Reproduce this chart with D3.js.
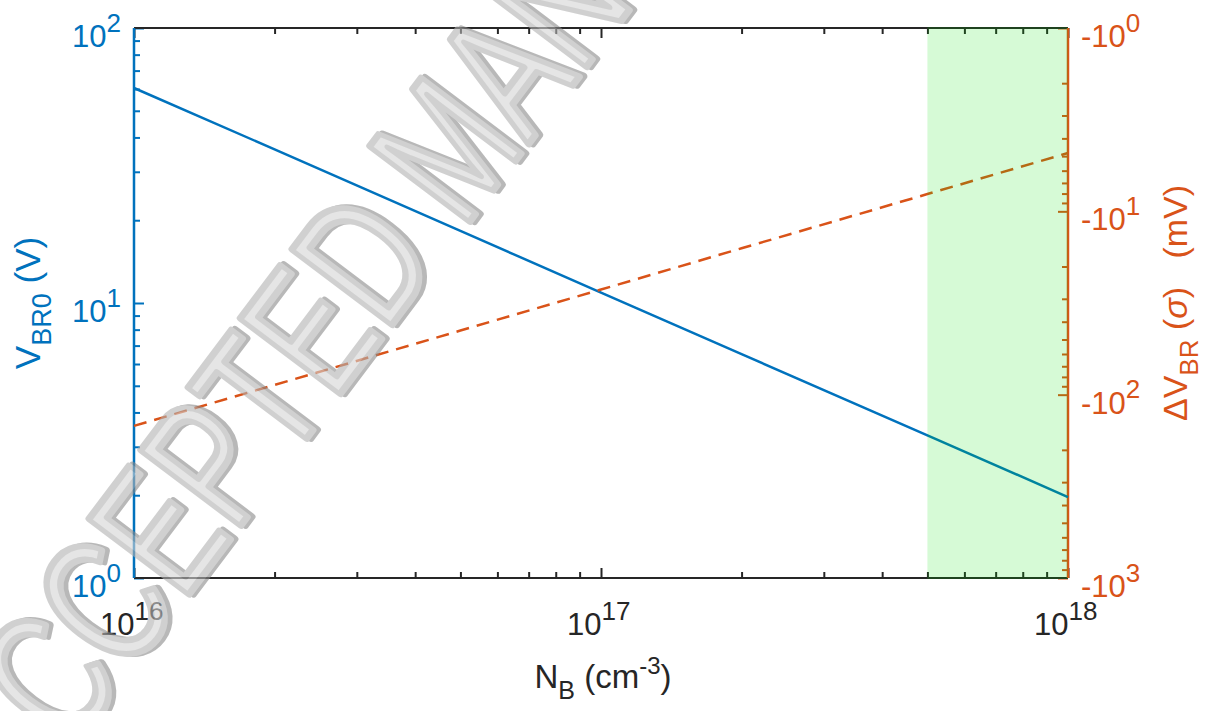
<!DOCTYPE html>
<html>
<head>
<meta charset="utf-8">
<script src="https://cdn.jsdelivr.net/npm/d3@7"></script>
<style>
  body { margin: 0; background: #fff; }
  text { font-family: "Liberation Sans", Arial, Helvetica, sans-serif; }
</style>
</head>
<body>
<svg id="chart" width="1211" height="711"></svg>
<script>
// doping concentration N_B (cm^-3) and the two curves
var nB = [1e16, 2e16, 5e16, 1e17, 2e17, 5e17, 1e18];
var vbr0 = [60.5, 36.2, 18.3, 10.9, 6.52, 3.30, 1.97];          // left axis, V
var dVbr = [-148, -88.5, -44.7, -26.7, -15.9, -8.05, -4.81];     // right axis, mV
var xTickExp = [16, 17, 18];
var leftTickExp = [0, 1, 2];
var rightTickExp = [0, 1, 2, 3];
var shadeRange = [5e17, 1e18];
var watermark = "ACCEPTED MANUSCRIPT";

var blue = "#0072BD", orange = "#D95319";
var margin = {left: 134, right: 143, top: 28, bottom: 133};
var W = 1211, H = 711;

var svg = d3.select("#chart");

var x = d3.scaleLog().domain([1e16, 1e18]).range([margin.left, W - margin.right]);
var yL = d3.scaleLog().domain([1, 100]).range([H - margin.bottom, margin.top]);
var yR = d3.scaleLog().domain([-1, -1000]).range([margin.top, H - margin.bottom]);

var x0 = margin.left, x1 = W - margin.right, y0 = margin.top, y1 = H - margin.bottom;

// minor/major tick positions
var isDecade = d => Math.abs(Math.log10(Math.abs(d)) - Math.round(Math.log10(Math.abs(d)))) < 1e-6;
var xMinor = x.ticks().filter(d => !isDecade(d));
var xMajor = xTickExp.map(e => Math.pow(10, e));
var lMinor = yL.ticks().filter(d => !isDecade(d));
var lMajor = leftTickExp.map(e => Math.pow(10, e));
var rMinor = d3.scaleLog().domain([1, 1000]).ticks().filter(d => !isDecade(d)).map(d => -d);
var rMajor = rightTickExp.map(e => -Math.pow(10, e));

function axisLines(g, scale, majors, minors, orient, color) {
    var mk = function(vals, len) {
        var ax = orient(scale).tickValues(vals).tickSize(-len).tickFormat("").tickSizeOuter(0);
        var a = g.append("g").call(ax);
        a.select(".domain").remove();
        a.selectAll("line").attr("stroke", color).attr("stroke-width", 2);
        return a;
    };
    mk(majors, 10);
    mk(minors, 6);
}

// bottom + top (black)
var gb = svg.append("g").attr("transform", `translate(0,${y1})`);
axisLines(gb, x, xMajor, xMinor, d3.axisBottom, "#262626");
var gt = svg.append("g").attr("transform", `translate(0,${y0})`);
axisLines(gt, x, xMajor, xMinor, d3.axisTop, "#262626");
// left (blue)
var gl = svg.append("g").attr("transform", `translate(${x0},0)`);
axisLines(gl, yL, lMajor, lMinor, d3.axisLeft, blue);
// right (orange)
var gr = svg.append("g").attr("transform", `translate(${x1},0)`);
axisLines(gr, yR, rMajor, rMinor, d3.axisRight, orange);

// box
svg.append("line").attr("x1", x0).attr("x2", x1).attr("y1", y0).attr("y2", y0).attr("stroke", "#262626").attr("stroke-width", 2);
svg.append("line").attr("x1", x0).attr("x2", x1).attr("y1", y1).attr("y2", y1).attr("stroke", "#262626").attr("stroke-width", 2);
svg.append("line").attr("x1", x0).attr("x2", x0).attr("y1", y0).attr("y2", y1).attr("stroke", blue).attr("stroke-width", 2.5);
svg.append("line").attr("x1", x1).attr("x2", x1).attr("y1", y0).attr("y2", y1).attr("stroke", orange).attr("stroke-width", 2.5);

// curves
var pts = nB.map((n, i) => ({n: n, v: vbr0[i], d: dVbr[i]}));
svg.append("path").datum(pts)
    .attr("fill", "none").attr("stroke", blue).attr("stroke-width", 2.5)
    .attr("d", d3.line().x(d => x(d.n)).y(d => yL(d.v)));
svg.append("path").datum(pts)
    .attr("fill", "none").attr("stroke", orange).attr("stroke-width", 2.5)
    .attr("stroke-dasharray", "13,8")
    .attr("d", d3.line().x(d => x(d.n)).y(d => yR(d.d)));

// shaded region on top
svg.append("rect")
    .attr("x", x(shadeRange[0])).attr("y", y0 - 1)
    .attr("width", x(shadeRange[1]) - x(shadeRange[0]))
    .attr("height", y1 - y0 + 2)
    .attr("fill", "#00dd00").attr("opacity", 0.16);

// tick labels with superscripts
function powLabel(sel, base, exp, fs, color, anchor) {
    var t = sel.append("text").attr("font-size", fs).attr("fill", color).attr("text-anchor", anchor);
    t.append("tspan").text(base);
    t.append("tspan").attr("font-size", fs * 0.84).attr("dy", -fs * 0.5).text(exp);
    return t;
}
xTickExp.forEach(function(e) {
    powLabel(svg, "10", e, 31, "#262626", "start")
        .attr("x", x(Math.pow(10, e)) - 34).attr("y", y1 + 57);
});
leftTickExp.forEach(function(e) {
    powLabel(svg, "10", e, 31, blue, "end")
        .attr("x", x0 - 13).attr("y", yL(Math.pow(10, e)) + 19);
});
rightTickExp.forEach(function(e) {
    powLabel(svg, "-10", e, 31, orange, "start")
        .attr("x", x1 + 13).attr("y", yR(-Math.pow(10, e)) + 19);
});

// axis titles
var xl = svg.append("text").attr("font-size", 33).attr("fill", "#262626").attr("text-anchor", "middle")
    .attr("x", (x0 + x1) / 2 + 2).attr("y", 688);
xl.append("tspan").text("N");
xl.append("tspan").attr("font-size", 25).attr("dy", 11).text("B");
xl.append("tspan").attr("dy", -11).text(" (cm");
xl.append("tspan").attr("font-size", 24).attr("dy", -14).text("-3");
xl.append("tspan").attr("dy", 14).text(")");

var ylab = svg.append("text").attr("font-size", 35).attr("fill", blue).attr("text-anchor", "middle")
    .attr("transform", `translate(40,${(y0 + y1) / 2}) rotate(-90)`);
ylab.append("tspan").text("V");
ylab.append("tspan").attr("font-size", 27).attr("dy", 11).text("BR0");
ylab.append("tspan").attr("dy", -11).text(" (V)");

var yrl = svg.append("text").attr("font-size", 34).attr("fill", orange).attr("text-anchor", "middle")
    .attr("transform", `translate(1187,${(y0 + y1) / 2}) rotate(-90)`);
yrl.append("tspan").text("\u0394V");
yrl.append("tspan").attr("font-size", 26).attr("dy", 11).text("BR");
yrl.append("tspan").attr("dy", -11).text(" (");
yrl.append("tspan").attr("font-style", "italic").text("\u03C3");
yrl.append("tspan").text(")\u00A0\u00A0 (mV)");

//watermark over everything, half transparent
var wfs = 182;
var wm = svg.append("g").attr("opacity", 0.6)
    .attr("transform", "translate(-34,782) rotate(-53) scale(0.71,1)");
wm.append("text")
    .attr("x", 4).attr("y", wfs * 0.358 + 3)
    .attr("font-size", wfs)
    .attr("fill", "#8a8a8a").attr("stroke", "#8a8a8a").attr("stroke-width", 8)
    .attr("stroke-linejoin", "round")
    .text(watermark);
wm.append("text")
    .attr("x", 0).attr("y", wfs * 0.358)
    .attr("font-size", wfs)
    .attr("fill", "#d4d4d4").attr("stroke", "#b2b2b2").attr("stroke-width", 7)
    .attr("stroke-linejoin", "round")
    .text(watermark);
</script>
</body>
</html>
